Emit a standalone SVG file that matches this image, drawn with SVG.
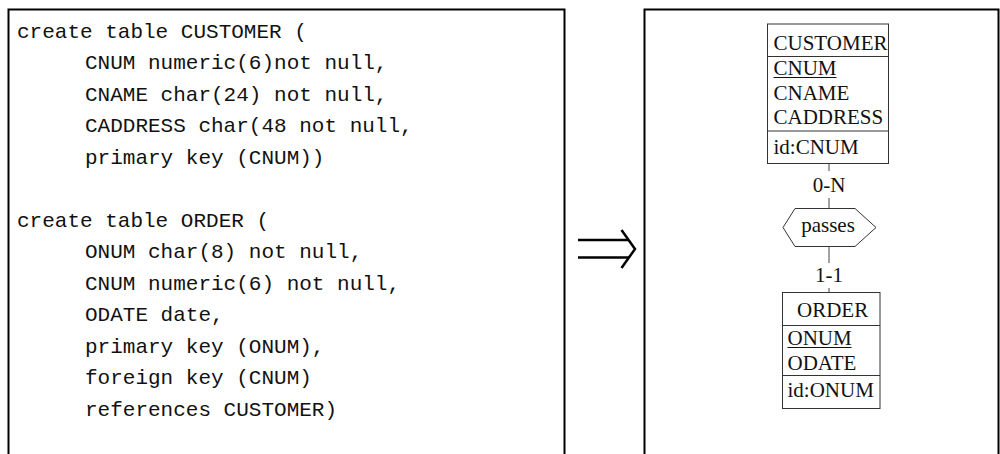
<svg xmlns="http://www.w3.org/2000/svg" width="1000" height="454" viewBox="0 0 1000 454">
  <style>
    .frame { fill: none; stroke: #000; stroke-width: 2; }
    .code { font-family: "Liberation Mono", "Courier New", monospace; font-size: 21px; fill: #111; }
    .ent { fill: #fff; stroke: #333; stroke-width: 1; }
    .sep { stroke: #333; stroke-width: 1; }
    .lbl { font-family: "Liberation Serif", "Times New Roman", serif; font-size: 21px; fill: #111; }
    .mid { text-anchor: middle; }
    .link { stroke: #444; stroke-width: 1; fill: none; }
    .ul { stroke: #111; stroke-width: 1; }
  </style>

  <!-- SQL source panel -->
  <g id="sql-panel">
    <rect class="frame" x="8.5" y="9.5" width="556" height="470"/>
    <text class="code" x="17" y="37.5">create table CUSTOMER (</text>
    <text class="code" x="85" y="69">CNUM numeric(6)not null,</text>
    <text class="code" x="85" y="100.5">CNAME char(24) not null,</text>
    <text class="code" x="85" y="132">CADDRESS char(48 not null,</text>
    <text class="code" x="85" y="163.5">primary key (CNUM))</text>
    <text class="code" x="17" y="226.5">create table ORDER (</text>
    <text class="code" x="85" y="258">ONUM char(8) not null,</text>
    <text class="code" x="85" y="289.5">CNUM numeric(6) not null,</text>
    <text class="code" x="85" y="321">ODATE date,</text>
    <text class="code" x="85" y="352.5">primary key (ONUM),</text>
    <text class="code" x="85" y="384">foreign key (CNUM)</text>
    <text class="code" x="85" y="415.5">references CUSTOMER)</text>
  </g>

  <!-- transformation arrow -->
  <g id="implies" fill="none" stroke="#000" stroke-width="2.5">
    <line x1="578" y1="240" x2="629" y2="240"/>
    <line x1="578" y1="257.5" x2="629" y2="257.5"/>
    <polyline points="621.5,230 635,249 621.5,268"/>
  </g>

  <!-- schema panel -->
  <rect class="frame" x="644.5" y="9.5" width="354" height="470"/>

  <g id="connectors">
    <line class="link" x1="829" y1="163.5" x2="829" y2="171"/>
    <line class="link" x1="829" y1="198" x2="829" y2="208.5"/>
    <line class="link" x1="829" y1="246.5" x2="829" y2="263"/>
    <line class="link" x1="829" y1="288" x2="829" y2="292.5"/>
    <text class="lbl mid" x="829" y="192">0-N</text>
    <text class="lbl mid" x="829" y="282">1-1</text>
  </g>

  <g id="customer">
    <rect class="ent" x="767.5" y="24" width="121" height="139.5"/>
    <line class="sep" x1="767.5" y1="56.5" x2="888.5" y2="56.5"/>
    <line class="sep" x1="767.5" y1="131" x2="888.5" y2="131"/>
    <text class="lbl" x="773.5" y="50">CUSTOMER</text>
    <text class="lbl" x="773.5" y="75">CNUM</text>
    <line class="ul" x1="773.5" y1="77.5" x2="836.5" y2="77.5"/>
    <text class="lbl" x="773.5" y="99.5">CNAME</text>
    <text class="lbl" x="773.5" y="124">CADDRESS</text>
    <text class="lbl" x="773.5" y="154">id:CNUM</text>
  </g>

  <g id="passes">
    <polygon class="ent" points="795,208.5 855,208.5 876,227.5 855,246.5 795,246.5 783,227.5"/>
    <text class="lbl mid" x="828" y="232">passes</text>
  </g>

  <g id="order">
    <rect class="ent" x="782.5" y="292.5" width="97.5" height="116"/>
    <line class="sep" x1="782.5" y1="325.5" x2="880" y2="325.5"/>
    <line class="sep" x1="782.5" y1="375.5" x2="880" y2="375.5"/>
    <text class="lbl" x="797" y="317">ORDER</text>
    <text class="lbl" x="787.5" y="345">ONUM</text>
    <line class="ul" x1="787.5" y1="347.5" x2="851.5" y2="347.5"/>
    <text class="lbl" x="787.5" y="370">ODATE</text>
    <text class="lbl" x="787.5" y="397">id:ONUM</text>
  </g>
</svg>
